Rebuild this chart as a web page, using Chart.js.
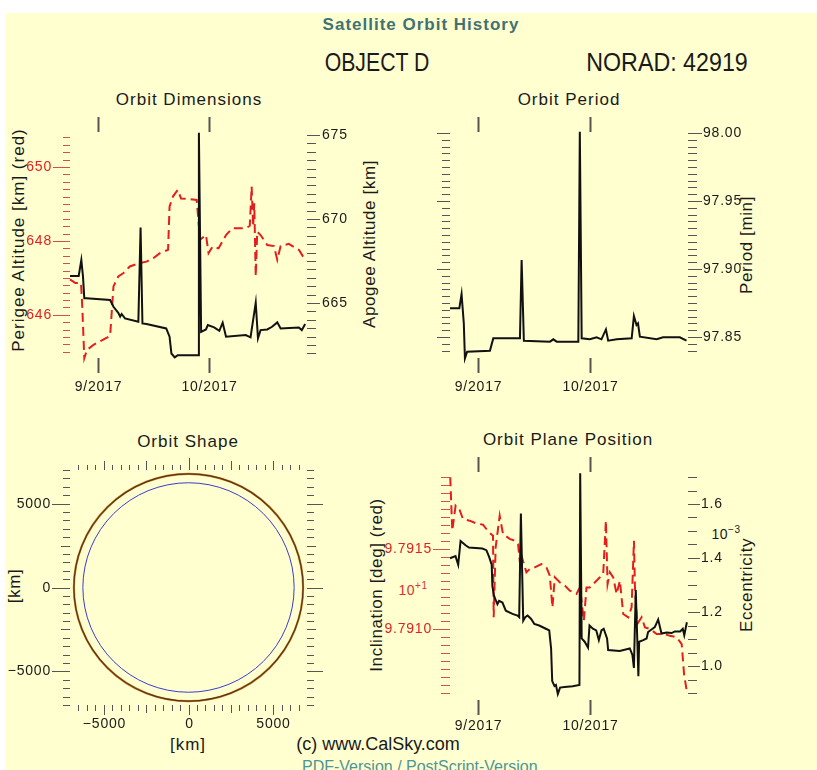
<!DOCTYPE html>
<html>
<head>
<meta charset="utf-8">
<title>Satellite Orbit History</title>
<script src="https://cdn.jsdelivr.net/npm/chart.js@4.4.1/dist/chart.umd.min.js"></script>
<style>
    body { margin: 0; width: 817px; height: 770px; overflow: hidden; background: #fff;
           font-family: "Liberation Sans", Arial, sans-serif; color: #1a1a1a; position: relative; }
    #sheet { position: absolute; left: 5px; top: 13px; width: 812px; height: 757px; background: #FFFFD0; }
    .t { position: absolute; white-space: nowrap; transform: translate(-50%, -50%); letter-spacing: 1px; font-size: 17px; }
    .rot { position: absolute; white-space: nowrap; transform: translate(-50%, -50%) rotate(-90deg);
           font-size: 17px; letter-spacing: 0.6px; }
    canvas { position: absolute; }
    sup { font-size: 10px; vertical-align: 6px; }
</style>
</head>
<body>
<div id="sheet"></div>

<div class="t" style="left:421px;top:25px;font-weight:bold;color:#3F7373;">Satellite Orbit History</div>
<div class="t" style="left:377px;top:62px;font-size:25px;letter-spacing:0;transform:translate(-50%,-50%) scaleX(0.85);">OBJECT D</div>
<div class="t" style="left:667px;top:62px;font-size:25px;letter-spacing:0;transform:translate(-50%,-50%) scaleX(0.93);">NORAD: 42919</div>

<div class="t" style="left:189px;top:100px;">Orbit Dimensions</div>
<div class="t" style="left:569px;top:100px;">Orbit Period</div>
<div class="t" style="left:188px;top:442px;">Orbit Shape</div>
<div class="t" style="left:568px;top:440px;">Orbit Plane Position</div>

<div class="rot" style="left:19px;top:240px;letter-spacing:1px;">Perigee Altitude [km] (red)</div>
<div class="rot" style="left:370px;top:244px;">Apogee Altitude [km]</div>
<div class="rot" style="left:747px;top:245px;">Period [min]</div>
<div class="rot" style="left:15px;top:586px;">[km]</div>
<div class="rot" style="left:377px;top:585px;">Inclination [deg] (red)</div>
<div class="rot" style="left:747px;top:585px;">Eccentricity</div>
<div class="t" style="left:188px;top:745px;">[km]</div>

<div class="t" style="left:413px;top:589px;font-size:14px;letter-spacing:0.5px;color:#e03030;">10<sup>+1</sup></div>
<div class="t" style="left:726px;top:533px;font-size:14px;letter-spacing:0.5px;">10<sup>−3</sup></div>

<div class="t" style="left:378px;top:744px;font-size:18px;letter-spacing:0;">(c) www.CalSky.com</div>
<div style="position:absolute;left:302px;top:758px;font-size:16px;color:#4E9595;white-space:nowrap;">PDF-Version / PostScript-Version</div>

<canvas id="c1" width="410" height="290" style="left:0;top:110px;"></canvas>
<canvas id="c2" width="407" height="290" style="left:410px;top:110px;"></canvas>
<canvas id="c3" width="410" height="285" style="left:0;top:450px;"></canvas>
<canvas id="c4" width="477" height="285" style="left:340px;top:450px;"></canvas>

<script>
// ---- data (x = days since 1 Sep 2017) ----
const monthTickDays = [0, 30];
const monthTickLabels = ['9/2017', '10/2017'];

// Orbit Dimensions: perigee (red, dashed, left axis)
const perigeeDays = [-7.5, -6.06, -4.54, -4.2, -3.65, -2.94, -1.16, 3.3, 4.2, 5.5,
    6.9, 8.6, 11.3, 13.1, 14.9, 16.7, 18.9, 19.3, 20.2, 21.5,
    22.4, 23.8, 26.6, 27.5, 29.1, 29.8, 30.9, 32.5, 34.5, 36.2,
    39.8, 40.9, 41.4, 41.8, 42.1, 42.5, 42.9, 43.8, 45.6, 47.4,
    48.3, 49.2, 51.4, 54.1, 55.8];
const perigeeKm = [646.96, 646.86, 646.86, 646.23, 644.83, 645.05, 645.19, 645.43, 646.77, 647.04,
    647.13, 647.31, 647.40, 647.44, 647.53, 647.67, 647.76, 648.93, 649.20, 649.38,
    649.15, 649.14, 649.11, 648.03, 648.16, 647.67, 647.85, 647.80, 648.16, 648.34,
    648.34, 648.41, 649.47, 648.39, 649.02, 647.04, 648.25, 648.16, 647.89, 647.86,
    647.49, 647.86, 647.92, 647.76, 647.49];
// Orbit Dimensions: apogee (black, right axis)
const apogeeDays = [-7.5, -5.16, -4.45, -4.0, -3.65, -3.1, 3.3, 4.2, 5.5, 6.0,
    6.4, 7.3, 10.9, 11.5, 12.0, 13.1, 18.4, 19.3, 19.8, 20.7,
    21.5, 27.05, 27.2, 27.8, 29.1, 29.6, 31.3, 32.7, 33.6, 34.5,
    39.8, 41.1, 42.5, 43.1, 43.8, 45.6, 46.9, 48.3, 49.2, 54.1,
    54.9, 55.8];
const apogeeKm = [666.61, 666.61, 667.56, 666.57, 665.28, 665.28, 665.18, 664.78, 664.42, 664.19,
    664.35, 664.09, 663.89, 669.50, 663.79, 663.75, 663.49, 663.00, 662.00, 661.77,
    661.90, 661.90, 675.14, 663.29, 663.43, 663.69, 663.55, 663.35, 663.83, 663.00,
    663.10, 662.96, 665.02, 662.90, 663.39, 663.43, 663.59, 663.85, 663.49, 663.55,
    663.39, 663.75];
const perigeeTicks = [646, 648, 650];
const perigeeTickLabels = ['646', '648', '650'];
const apogeeTicks = [665, 670, 675];
const apogeeTickLabels = ['665', '670', '675'];

// Orbit Period (minutes)
const periodDays = [-7.5, -5.0, -4.4, -3.8, -3.5, -2.9, 3.2, 4.1, 11.25, 11.7,
    12.3, 19.3, 20.2, 21.1, 26.9, 27.3, 27.8, 30.0, 31.8, 33.1,
    34.3, 34.9, 37.2, 41.2, 41.8, 42.5, 42.9, 43.4, 47.9, 49.6,
    54.1, 55.9];
const periodMin = [97.8711, 97.8711, 97.8816, 97.8601, 97.8343, 97.8392, 97.8399, 97.8490, 97.8490, 97.9066,
    97.8473, 97.8466, 97.8483, 97.8466, 97.8466, 98.0010, 97.8490, 97.8483, 97.8498, 97.8483,
    97.8556, 97.8473, 97.8483, 97.8490, 97.8654, 97.8588, 97.8601, 97.8502, 97.8483, 97.8498,
    97.8498, 97.8473];
const periodTicks = [97.85, 97.90, 97.95, 98.00];
const periodTickLabels = ['97.85', '97.90', '97.95', '98.00'];

// Orbit Shape (km)
const ringRadiiKm = [6240, 6770];          // Earth, orbit
const shapeTicks = [-5000, 0, 5000];
const shapeTickLabels = ['−5000', '0', '5000'];

// Orbit Plane Position: inclination (deg, red dashed) and eccentricity (x 1e-3, black)
const inclDays = [-7.43, -6.89, -6.0, -4.92, -4.03, -2.24, -0.45, 1.34, 2.95, 4.03,
    4.21, 4.74, 5.82, 6.71, 8.5, 9.85, 10.74, 11.37, 11.91, 12.98,
    13.88, 15.22, 17.01, 18.35, 19.25, 19.96, 20.59, 21.93, 23.28, 24.62,
    26.41, 27.31, 27.75, 28.38, 29.1, 29.99, 30.89, 31.78, 32.68, 33.57,
    34.29, 34.74, 35.36, 36.26, 37.15, 38.05, 38.94, 40.29, 41.18, 41.81,
    42.08, 42.7, 43.87, 44.76, 46.1, 47.9, 49.69, 51.48, 53.27, 54.61,
    55.24, 55.95];
const inclDeg = [97.91948, 97.91615, 97.91771, 97.91744, 97.91688, 97.91677, 97.91660, 97.91652, 97.91604, 97.91583,
    97.91073, 97.91510, 97.91708, 97.91594, 97.91563, 97.91552, 97.91531, 97.91385, 97.91438, 97.91354,
    97.91375, 97.91385, 97.91406, 97.91385, 97.91333, 97.91135, 97.91323, 97.91292, 97.91271, 97.91240,
    97.91219, 97.91260, 97.91177, 97.91052, 97.91260, 97.91260, 97.91281, 97.91302, 97.91323, 97.91344,
    97.91677, 97.91281, 97.91354, 97.91323, 97.91219, 97.91302, 97.91094, 97.91073, 97.91135, 97.91552,
    97.91260, 97.91031, 97.91073, 97.91010, 97.91000, 97.90969, 97.90969, 97.90958, 97.90948, 97.90906,
    97.90719, 97.90615];
const eccDays = [-7.5, -6.02, -5.30, -4.67, -3.32, -2.43, 1.17, 2.25, 2.96, 3.68,
    3.86, 4.31, 5.21, 5.66, 6.56, 7.46, 9.25, 10.6, 11.05, 11.5,
    12.13, 12.67, 13.3, 14.2, 15.1, 16.4, 18.2, 19.1, 19.6, 19.9,
    20.5, 20.9, 21.4, 22.0, 23.2, 25.4, 27.2, 27.4, 27.8, 28.6,
    29.5, 29.9, 30.8, 31.7, 32.4, 33.1, 33.7, 34.6, 34.9, 38.0,
    40.7, 41.4, 41.8, 42.3, 43.0, 43.2, 44.3, 45.2, 45.6, 46.8,
    47.4, 48.3, 49.2, 50.6, 51.9, 52.8, 54.2, 54.9, 55.3, 56.0];
const eccValues = [1.399, 1.407, 1.375, 1.463, 1.447, 1.439, 1.435, 1.429, 1.405, 1.375,
    1.296, 1.259, 1.229, 1.241, 1.235, 1.205, 1.193, 1.187, 1.181, 1.565,
    1.168, 1.181, 1.187, 1.175, 1.156, 1.150, 1.138, 1.132, 1.065, 0.944,
    0.926, 0.930, 0.896, 0.920, 0.922, 0.925, 0.930, 1.714, 1.102, 1.090,
    1.068, 1.150, 1.138, 1.132, 1.096, 1.132, 1.138, 1.102, 1.059, 1.056,
    1.065, 1.041, 0.993, 1.281, 0.962, 1.090, 1.096, 1.102, 1.126, 1.138,
    1.144, 1.172, 1.120, 1.124, 1.122, 1.128, 1.128, 1.138, 1.114, 1.162];
const inclTicks = [97.910, 97.915];
const inclTickLabels = ['9.7910', '9.7915'];
const eccTicks = [1.0, 1.2, 1.4, 1.6];
const eccTickLabels = ['1.0', '1.2', '1.4', '1.6'];

// ---- styling ----
const FONT = '"Liberation Sans", Arial, sans-serif';
const RED = '#e41e1e';
const TICK = '#555';
const X_MIN = -7.5, X_MAX = 56.3;

// IDL-like tick marks drawn outside the plot area, positioned by the chart scales
const idlAxes = {
    id: 'idlAxes',
    afterDraw(chart, args, opts) {
        if (!opts.axes) return;
        const ctx = chart.ctx;
        const area = chart.chartArea;
        ctx.save();
        ctx.font = '14px ' + FONT;
        if ('letterSpacing' in ctx) ctx.letterSpacing = '0.8px';
        opts.axes.forEach(ax => {
            const scale = chart.scales[ax.scale];
            const majors = ax.majors || [];
            const eps = (ax.step || 1) / 100;
            const values = majors.slice();
            if (ax.step) {
                const n = Math.round((ax.to - ax.from) / ax.step);
                for (let i = 0; i <= n; i++) {
                    const v = ax.from + i * ax.step;
                    if (!majors.some(m => Math.abs(m - v) < eps)) values.push(v);
                }
            }
            const off = ax.offset || 0;
            values.forEach(v => {
                const mi = majors.findIndex(m => Math.abs(m - v) < eps);
                const isMid = ax.midStep && Math.abs(v / ax.midStep - Math.round(v / ax.midStep)) < 1e-6;
                const len = mi >= 0 ? ax.majorLen : (isMid ? ax.midLen : ax.minorLen);
                const p = Math.round(scale.getPixelForValue(v)) + 0.5;
                let x0, y0, x1, y1;
                if (ax.side === 'left') { x0 = area.left - off; x1 = x0 - len; y0 = y1 = p; }
                else if (ax.side === 'right') { x0 = area.right + off; x1 = x0 + len; y0 = y1 = p; }
                else if (ax.side === 'top') { y0 = area.top - off; y1 = y0 - len; x0 = x1 = p; }
                else { y0 = area.bottom + off; y1 = y0 + len; x0 = x1 = p; }
                ctx.strokeStyle = ax.color || TICK;
                ctx.lineWidth = (mi >= 0 && ax.majorWidth) ? ax.majorWidth : 1;
                ctx.beginPath();
                ctx.moveTo(x0, y0);
                ctx.lineTo(x1, y1);
                ctx.stroke();
                if (mi >= 0 && ax.labels) {
                    const gap = ax.gap || 2;
                    ctx.fillStyle = ax.labelColor || '#1a1a1a';
                    if (ax.side === 'left') { ctx.textAlign = 'right'; ctx.textBaseline = 'middle'; ctx.fillText(ax.labels[mi], x1 - gap, p); }
                    else if (ax.side === 'right') { ctx.textAlign = 'left'; ctx.textBaseline = 'middle'; ctx.fillText(ax.labels[mi], x1 + gap, p); }
                    else if (ax.side === 'bottom') { ctx.textAlign = 'center'; ctx.textBaseline = 'top'; ctx.fillText(ax.labels[mi], p, y1 + gap); }
                    else { ctx.textAlign = 'center'; ctx.textBaseline = 'bottom'; ctx.fillText(ax.labels[mi], p, y1 - gap); }
                }
            });
        });
        ctx.restore();
    }
};

// circles of the orbit shape panel, radius taken from the data through the scales
const orbitRings = {
    id: 'orbitRings',
    afterDatasetsDraw(chart, args, opts) {
        if (!opts.radii) return;
        const { ctx, scales: { x, y } } = chart;
        const cx = x.getPixelForValue(0), cy = y.getPixelForValue(0);
        opts.radii.forEach((r, i) => {
            const st = opts.styles[i];
            const rx = x.getPixelForValue(r) - cx;
            const ry = cy - y.getPixelForValue(r);
            ctx.save();
            (st.strokes).forEach(s => {
                ctx.strokeStyle = s.color;
                ctx.lineWidth = s.width;
                ctx.beginPath();
                ctx.ellipse(cx, cy, rx, ry, 0, 0, Math.PI * 2);
                ctx.stroke();
            });
            ctx.restore();
        });
    }
};

Chart.register(idlAxes, orbitRings);

function pts(xs, ys) {
    return xs.map((x, i) => ({ x, y: ys[i] }));
}

const solidLine = { borderColor: '#111', borderWidth: 2, pointRadius: 0, tension: 0, fill: false, clip: 10 };
const dashedLine = { borderColor: RED, borderWidth: 2, borderDash: [9, 5], pointRadius: 0, tension: 0, fill: false, clip: 10 };

function chartOptions(padding, scales, axes, extra) {
    return {
        responsive: false,
        animation: false,
        events: [],
        layout: { padding },
        scales,
        plugins: Object.assign({
            legend: { display: false },
            tooltip: { enabled: false },
            idlAxes: { axes }
        }, extra || {})
    };
}

function monthAxes(offTop, offBottom, gap) {
    return [
        { scale: 'x', side: 'top', majors: monthTickDays, majorLen: 15, majorWidth: 2, offset: offTop },
        { scale: 'x', side: 'bottom', majors: monthTickDays, labels: monthTickLabels, majorLen: 15, majorWidth: 2, offset: offBottom, gap }
    ];
}

// ---- Orbit Dimensions ----
new Chart(document.getElementById('c1'), {
    type: 'line',
    data: {
        datasets: [
            { ...solidLine, data: pts(apogeeDays, apogeeKm), yAxisID: 'y2' },
            { ...dashedLine, data: pts(perigeeDays, perigeeKm), yAxisID: 'y' }
        ]
    },
    options: chartOptions({ left: 70, top: 23, right: 103, bottom: 43 }, {
        x: { type: 'linear', min: X_MIN, max: X_MAX, display: false },
        y: { type: 'linear', min: 644.86, max: 650.92, display: false },
        y2: { type: 'linear', min: 661.79, max: 675.12, display: false }
    }, [
        ...monthAxes(1, 1, 7),
        { scale: 'y', side: 'left', from: 645.0, to: 650.8, step: 0.2, majors: perigeeTicks, labels: perigeeTickLabels,
          minorLen: 7, majorLen: 17, color: '#d05050', labelColor: RED, gap: 1 },
        { scale: 'y2', side: 'right', from: 662.0, to: 675.0, step: 0.5, majors: apogeeTicks, labels: apogeeTickLabels,
          minorLen: 9, majorLen: 13, gap: 2 }
    ])
});

// ---- Orbit Period ----
new Chart(document.getElementById('c2'), {
    type: 'line',
    data: { datasets: [{ ...solidLine, data: pts(periodDays, periodMin) }] },
    options: chartOptions({ left: 40, top: 23, right: 129, bottom: 43 }, {
        x: { type: 'linear', min: X_MIN, max: X_MAX, display: false },
        y: { type: 'linear', min: 97.8353, max: 98.0, display: false }
    }, [
        ...monthAxes(1, 1, 7),
        { scale: 'y', side: 'left', from: 97.840, to: 98.0, step: 0.005, majors: periodTicks,
          minorLen: 8, majorLen: 13 },
        { scale: 'y', side: 'right', from: 97.840, to: 98.0, step: 0.005, majors: periodTicks, labels: periodTickLabels,
          minorLen: 9, majorLen: 14, gap: 1 }
    ])
});

// ---- Orbit Shape ----
new Chart(document.getElementById('c3'), {
    type: 'scatter',
    data: { datasets: [] },
    options: chartOptions({ left: 70, top: 20, right: 103, bottom: 30 }, {
        x: { type: 'linear', min: -7000, max: 7000, display: false },
        y: { type: 'linear', min: -7000, max: 7000, display: false }
    }, [
        { scale: 'y', side: 'left', from: -7000, to: 7000, step: 500, midStep: 2500, majors: shapeTicks, labels: shapeTickLabels,
          minorLen: 7, midLen: 9, majorLen: 18, gap: 1 },
        { scale: 'y', side: 'right', from: -7000, to: 7000, step: 500, midStep: 2500, majors: shapeTicks,
          minorLen: 7, midLen: 9, majorLen: 16 },
        { scale: 'x', side: 'top', from: -6500, to: 6500, step: 500, midStep: 2500, majors: [0],
          minorLen: 5, midLen: 9, majorLen: 12 },
        { scale: 'x', side: 'bottom', from: -6500, to: 6500, step: 500, midStep: 2500, majors: shapeTicks, labels: shapeTickLabels,
          minorLen: 6, midLen: 8, majorLen: 10, gap: 2 }
    ], {
        orbitRings: {
            radii: ringRadiiKm,
            styles: [
                { strokes: [{ color: '#3a3ad0', width: 1 }] },
                { strokes: [{ color: '#c8802e', width: 2.2 }, { color: '#5a3414', width: 1.2 }] }
            ]
        }
    })
});

// ---- Orbit Plane Position ----
new Chart(document.getElementById('c4'), {
    type: 'line',
    data: {
        datasets: [
            { ...solidLine, data: pts(eccDays, eccValues), yAxisID: 'y2' },
            { ...dashedLine, data: pts(inclDays, inclDeg), yAxisID: 'y' }
        ]
    },
    options: chartOptions({ left: 110, top: 27, right: 129, bottom: 42 }, {
        x: { type: 'linear', min: X_MIN, max: X_MAX, display: false },
        y: { type: 'linear', min: 97.906, max: 97.9195, display: false },
        y2: { type: 'linear', min: 0.90, max: 1.70, display: false }
    }, [
        ...monthAxes(5, 7, 4),
        { scale: 'y', side: 'left', from: 97.906, to: 97.9195, step: 0.0005, majors: inclTicks, labels: inclTickLabels,
          minorLen: 9, majorLen: 17, color: '#d05050', labelColor: RED, gap: 1 },
        { scale: 'y2', side: 'right', from: 0.90, to: 1.70, step: 0.05, majors: eccTicks, labels: eccTickLabels,
          minorLen: 9, majorLen: 12, gap: 1 }
    ])
});
</script>
</body>
</html>
